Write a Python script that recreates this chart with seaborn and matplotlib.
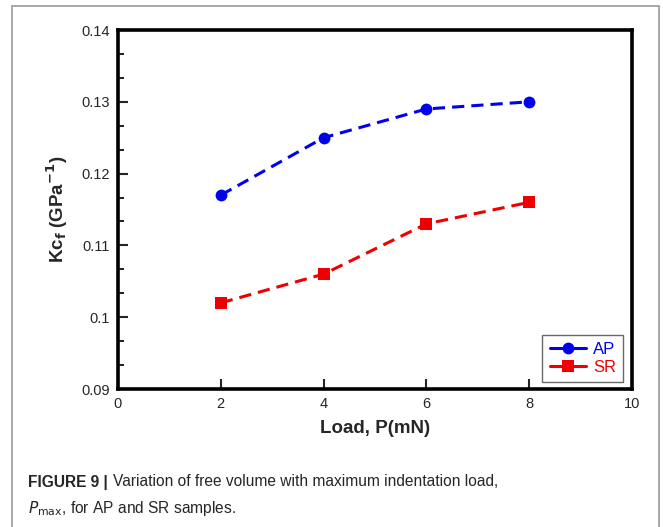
import matplotlib
matplotlib.use("Agg")
import matplotlib.pyplot as plt
import seaborn as sns
import pandas as pd
from matplotlib.patches import Rectangle
from matplotlib.ticker import AutoMinorLocator
from matplotlib.lines import Line2D

load = [2, 4, 6, 8]
ap_values = [0.117, 0.125, 0.129, 0.130]
sr_values = [0.102, 0.106, 0.113, 0.116]
series_names = ["AP", "SR"]
x_ticks = [0, 2, 4, 6, 8, 10]
y_ticks = [0.09, 0.1, 0.11, 0.12, 0.13, 0.14]
y_tick_labels = ["0.09", "0.1", "0.11", "0.12", "0.13", "0.14"]

df = pd.DataFrame({
    "Load": load * 2,
    "Kc": ap_values + sr_values,
    "Sample": [series_names[0]] * len(load) + [series_names[1]] * len(load),
})

sns.set_style("white")
plt.rcParams['font.family'] = ['Liberation Sans', 'DejaVu Sans']

fig = plt.figure(figsize=(6.63, 5.27), dpi=100)
ax = fig.add_axes([118/663, 1-389/527, (632-118)/663, (389-30)/527])

palette = {"AP": "#0000ee", "SR": "#ee0000"}
markers = {"AP": "o", "SR": "s"}
for name in series_names:
    sub = df[df["Sample"] == name]
    sns.lineplot(data=sub, x="Load", y="Kc", ax=ax, color=palette[name],
                 marker=markers[name], markersize=8.5 if name == "AP" else 8,
                 markeredgewidth=0, linestyle=(0, (4.0, 2.3)), linewidth=2.2,
                 legend=False)

ax.set_xlim(0, 10)
ax.set_ylim(0.09, 0.14)
ax.set_xticks(x_ticks)
ax.set_xticklabels([str(t) for t in x_ticks], fontsize=10.5)
ax.set_yticks(y_ticks)
ax.set_yticklabels(y_tick_labels, fontsize=10.5)
ax.yaxis.set_minor_locator(AutoMinorLocator(3))
ax.tick_params(axis='both', which='both', direction='in', left=True, bottom=True,
               right=False, top=False, pad=6)
ax.tick_params(axis='both', which='major', length=7, width=1.5)
ax.tick_params(axis='y', which='minor', length=4, width=1.5)
ax.tick_params(axis='x', which='minor', bottom=False)
for s in ax.spines.values():
    s.set_linewidth(2.6)
    s.set_color('black')

ax.set_xlabel("Load, P(mN)", fontsize=13.5, fontweight='bold', labelpad=6)
ax.set_ylabel(r"Kc$_\mathbf{f}$ (GPa$^\mathbf{-1}$)", fontsize=13.5, fontweight='bold', labelpad=8)

handles = [Line2D([0], [0], color=palette[n], marker=markers[n], markersize=8.5,
                  markeredgewidth=0, linestyle='-', linewidth=2.2) for n in series_names]
leg = ax.legend(handles, series_names, loc='lower right', bbox_to_anchor=(0.993, 0.005),
                frameon=True, fancybox=False, fontsize=12, handlelength=2.2,
                handletextpad=0.4, borderpad=0.45, labelspacing=0.15,
                borderaxespad=0.3)
leg.get_frame().set_edgecolor('#444444')
leg.get_frame().set_linewidth(1.0)
for t, n in zip(leg.get_texts(), series_names):
    t.set_color(palette[n])

# outer frame
frame = Rectangle((12/663, -0.05), (659-12)/663, 1.05 - 6/527, transform=fig.transFigure,
                  fill=False, edgecolor='#999999', linewidth=1.2, clip_on=False)
fig.patches.append(frame)

cap = ['Liberation Sans Narrow', 'Liberation Sans', 'DejaVu Sans']
fs = 11.2
fig.text(28/663, 1-482/527, "FIGURE 9 |", fontsize=fs, fontweight='bold',
         family=cap, va='center', ha='left')
fig.text(113/663, 1-482/527, "Variation of free volume with maximum indentation load,",
         fontsize=fs, family=cap, va='center', ha='left')
fig.text(28/663, 1-508/527, r"$P_{\mathrm{max}}$, for AP and SR samples.",
         fontsize=fs, family=cap, va='center', ha='left')

fig.savefig("out.png", dpi=100)
